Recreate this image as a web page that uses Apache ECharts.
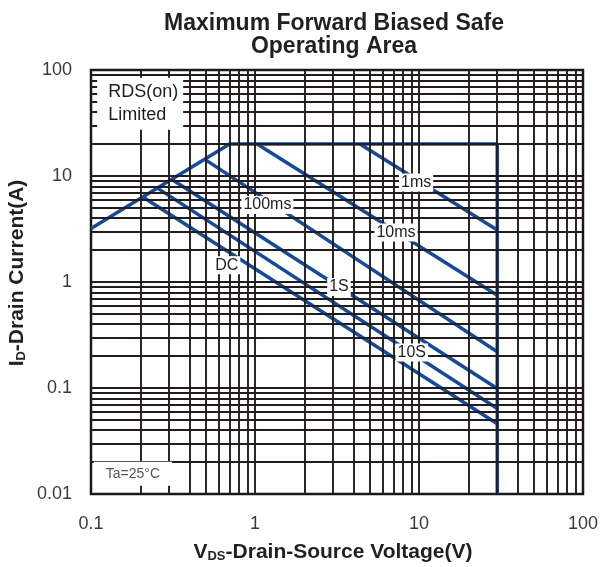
<!DOCTYPE html>
<html><head><meta charset="utf-8">
<script src="https://cdn.jsdelivr.net/npm/echarts@6/dist/echarts.min.js"></script>
<style>html,body{margin:0;padding:0;background:#fff}#c{width:603px;height:567px}</style>
</head><body><div id="c"></div>
<script>
const FONT = '"Liberation Sans", Arial, Helvetica, sans-serif';

// Axis ticks
const xTickValues = [0.1, 1, 10, 100];
const xTickLabels = ['0.1', '1', '10', '100'];
const yTickValues = [0.01, 0.1, 1, 10, 100];
const yTickLabels = ['0.01', '0.1', '1', '10', '100'];

// Log grid
const minorSteps = [2, 3, 4, 5, 6, 7, 8, 9];
const xDecades = [0.1, 1, 10];
const yDecades = [0.01, 0.1, 1, 10];

// SOA boundary (RDS(on) limit, current limit, BVDSS)
const boundaryV = [0.1, 0.7, 30, 30];
const boundaryI = [3.2, 20, 20, 0.01];

// Pulse-width limit lines
const pulseNames  = ['1ms', '10ms', '100ms', '1S', '10S', 'DC'];
const pulseStartV = [4.36, 1.03, 0.5, 0.31, 0.257, 0.208];
const pulseStartI = [20, 20, 14.2, 9.3, 7.6, 6.3];
const pulseEndV   = [30, 30, 30, 30, 30, 30];
const pulseEndI   = [3.1, 0.75, 0.22, 0.099, 0.064, 0.046];

// Label anchors (data coordinates)
const pulseLabelV = [9.6, 7.24, 1.19, 3.25, 9.03, 0.672];
const pulseLabelI = [8.7, 2.93, 5.32, 0.897, 0.216, 1.44];

const noteTexts = ['RDS(on)\nLimited', 'Ta=25°C'];
const noteV = [0.109, 0.104];
const noteI = [48, 0.0155];

const BLUE = '#114a9f';
const GRIDC = '#231c1a';

function tickFmt(values, labels) {
  return function (v) {
    for (let i = 0; i < values.length; i++) {
      if (Math.abs(Math.log10(v) - Math.log10(values[i])) < 1e-6) return labels[i];
    }
    return '';
  };
}

const gridLines = [];
xDecades.forEach(d => minorSteps.forEach(s => gridLines.push({ xAxis: +(d * s).toPrecision(6) })));
[1, 10].forEach(v => gridLines.push({ xAxis: v }));
yDecades.forEach(d => minorSteps.forEach(s => gridLines.push({ yAxis: +(d * s).toPrecision(6) })));
[0.1, 1, 10].forEach(v => gridLines.push({ yAxis: v }));

const blueLine = { color: BLUE, width: 3.5 };

const series = [
  {
    type: 'line', data: [], silent: true, z: 1,
    markLine: {
      silent: true, symbol: ['none', 'none'], animation: false,
      label: { show: false },
      lineStyle: { color: GRIDC, width: 1.9, type: 'solid' },
      emphasis: { disabled: true },
      data: gridLines
    }
  },
  {
    type: 'line', z: 3, symbol: 'none', silent: true,
    data: boundaryV.map((v, i) => [v, boundaryI[i]]),
    lineStyle: blueLine
  }
];
pulseNames.forEach((n, i) => {
  series.push({
    name: n, type: 'line', z: 3, symbol: 'none', silent: true,
    data: [[pulseStartV[i], pulseStartI[i]], [pulseEndV[i], pulseEndI[i]]],
    lineStyle: blueLine
  });
});
series.push({
  type: 'scatter', z: 6, symbolSize: 0, silent: true,
  itemStyle: { opacity: 1 },
  data: pulseNames.map((n, i) => [pulseLabelV[i], pulseLabelI[i], n]),
  label: {
    show: true, position: 'inside', formatter: p => p.data[2], opacity: 1,
    fontFamily: FONT, fontSize: 16, color: '#1e1e1e',
    backgroundColor: '#fff', padding: [1, 2]
  }
});
series.push({
  type: 'scatter', z: 6, symbolSize: 0, silent: true,
  itemStyle: { opacity: 1 },
  data: [[noteV[0], noteI[0], noteTexts[0]]],
  label: {
    show: true, position: 'right', distance: 0, formatter: p => p.data[2], opacity: 1,
    fontFamily: FONT, fontSize: 18, lineHeight: 23, color: '#1e1e1e', align: 'left',
    backgroundColor: '#fff', padding: [3, 5, 3, 11]
  }
});
series.push({
  type: 'scatter', z: 6, symbolSize: 0, silent: true,
  itemStyle: { opacity: 1 },
  data: [[noteV[1], noteI[1], noteTexts[1]]],
  label: {
    show: true, position: 'right', distance: 0, formatter: p => p.data[2], opacity: 1,
    fontFamily: FONT, fontSize: 14, color: '#555', align: 'left',
    backgroundColor: '#fff', padding: [5, 12, 5, 12]
  }
});

const chart = echarts.init(document.getElementById('c'), null, { renderer: 'canvas' });
chart.setOption({
  animation: false,
  backgroundColor: '#fff',
  title: {
    text: 'Maximum Forward Biased Safe\nOperating Area',
    left: 329, top: 7, textAlign: 'center',
    textStyle: { fontFamily: FONT, fontSize: 23, fontWeight: 'bold', lineHeight: 23, color: '#231f20' }
  },
  grid: { left: 91, right: 20, top: 70, bottom: 73, show: true, borderColor: '#1a1a1a', borderWidth: 2.5, backgroundColor: 'transparent' },
  xAxis: {
    type: 'log', logBase: 10, min: 0.1, max: 100, splitNumber: 3,
    axisLine: { show: false }, axisTick: { show: false }, splitLine: { show: false },
    axisLabel: { fontFamily: FONT, fontSize: 18, color: '#3a3a3a', margin: 21, showMinLabel: true, showMaxLabel: true, formatter: tickFmt(xTickValues, xTickLabels) }
  },
  yAxis: {
    type: 'log', logBase: 10, min: 0.01, max: 100, splitNumber: 4,
    axisLine: { show: false }, axisTick: { show: false }, splitLine: { show: false },
    axisLabel: { fontFamily: FONT, fontSize: 18, color: '#3a3a3a', margin: 19, showMinLabel: true, showMaxLabel: true, formatter: tickFmt(yTickValues, yTickLabels) }
  },
  graphic: [
    {
      type: 'text', x: 333, y: 552, silent: true,
      style: {
        text: '{b|V}{s|DS}{b|-Drain-Source Voltage(V)}',
        align: 'center', verticalAlign: 'middle',
        rich: {
          b: { fontFamily: FONT, fontSize: 21, fontWeight: 'bold', fill: '#231f20' },
          s: { fontFamily: FONT, fontSize: 13, fontWeight: 'bold', fill: '#231f20', verticalAlign: 'bottom' }
        }
      }
    },
    {
      type: 'text', x: 17, y: 273, rotation: Math.PI / 2, silent: true,
      style: {
        text: '{b|I}{s|D}{b|-Drain Current(A)}',
        align: 'center', verticalAlign: 'middle',
        rich: {
          b: { fontFamily: FONT, fontSize: 21, fontWeight: 'bold', fill: '#231f20' },
          s: { fontFamily: FONT, fontSize: 13, fontWeight: 'bold', fill: '#231f20', verticalAlign: 'bottom' }
        }
      }
    }
  ],
  series: series
});
</script>
</body></html>
